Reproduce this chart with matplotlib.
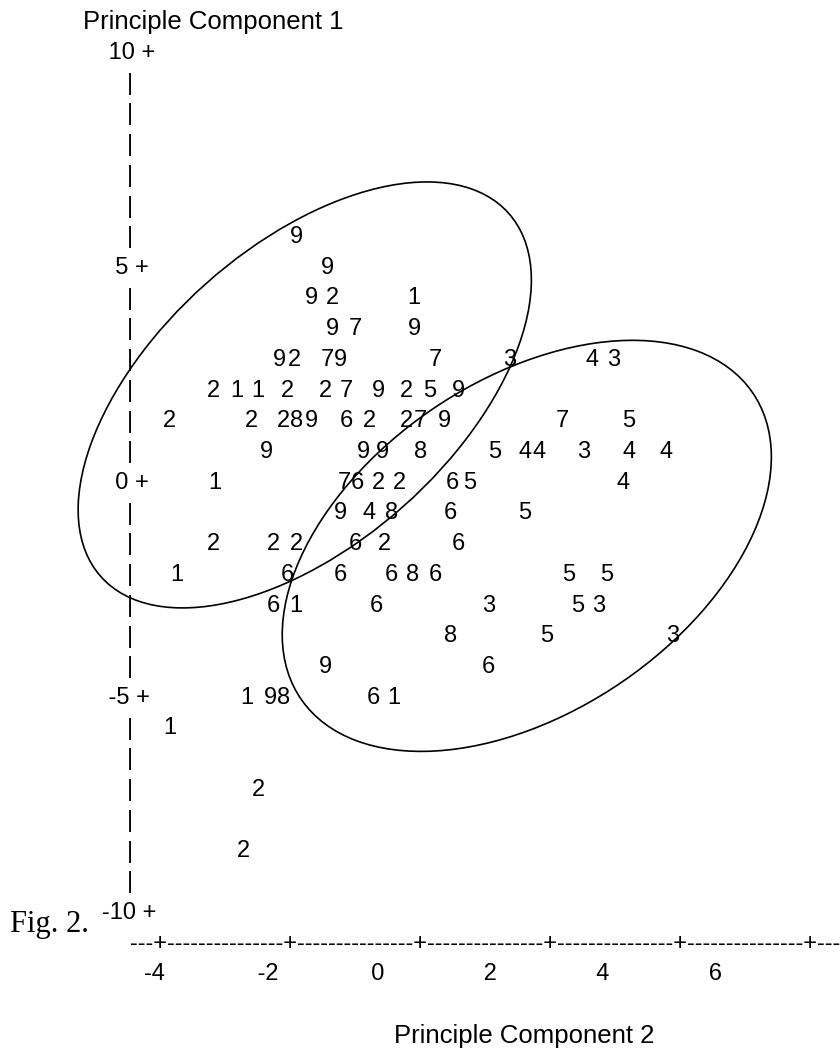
#!/usr/bin/env python3
# Printer-style scatter of the first two principal components (Fig. 2),
# every observation drawn as its group digit, with two ellipses.

import matplotlib
matplotlib.use("Agg")
import matplotlib.pyplot as plt
from matplotlib.patches import Ellipse
from matplotlib.transforms import offset_copy

# group digit of each plotted symbol, with its PC2 (x) and PC1 (y) score
pc2 = [
    -1.92,
    -1.45,
    -1.69, -1.36, -0.12,
    -1.36, -1.02, -0.12,
    -2.17, -1.94, -1.45, -1.25, 0.21, 1.34, 2.60, 2.93,
    -3.18, -2.82, -2.50, -2.05, -1.47, -1.15, -0.67, -0.23, 0.11, 0.55,
    -3.85, -2.61, -2.12, -1.92, -1.69, -1.15, -0.81, -0.23, -0.02, 0.34, 2.14, 3.16,
    -2.38, -0.90, -0.60, -0.02, 1.11, 1.57, 1.79, 2.47, 3.16, 3.73,
    -3.16, -1.18, -0.99, -0.67, -0.34, 0.47, 0.73, 3.07,
    -1.25, -0.81, -0.46, 0.44, 1.57,
    -3.18, -2.27, -1.92, -1.02, -0.58, 0.55,
    -3.74, -2.05, -1.25, -0.46, -0.14, 0.21, 2.24, 2.82,
    -2.27, -1.92, -0.69, 1.01, 2.37, 2.70,
    0.44, 1.91, 3.83,
    -1.47, 1.01,
    -2.67, -2.32, -2.12, -0.75, -0.43,
    -3.85,
    -2.50,
    -2.72,
]
pc1 = (
    [5.71]
    + [5.00]
    + [4.29] * 3
    + [3.57] * 3
    + [2.86] * 8
    + [2.14] * 10
    + [1.43] * 12
    + [0.71] * 10
    + [0.00] * 8
    + [-0.71] * 5
    + [-1.43] * 6
    + [-2.14] * 8
    + [-2.86] * 6
    + [-3.57] * 3
    + [-4.29] * 2
    + [-5.00] * 5
    + [-5.71]
    + [-7.14]
    + [-8.57]
)
group = [
    9,
    9,
    9, 2, 1,
    9, 7, 9,
    9, 2, 7, 9, 7, 3, 4, 3,
    2, 1, 1, 2, 2, 7, 9, 2, 5, 9,
    2, 2, 2, 8, 9, 6, 2, 2, 7, 9, 7, 5,
    9, 9, 9, 8, 5, 4, 4, 3, 4, 4,
    1, 7, 6, 2, 2, 6, 5, 4,
    9, 4, 8, 6, 5,
    2, 2, 2, 6, 2, 6,
    1, 6, 6, 6, 8, 6, 5, 5,
    6, 1, 6, 3, 5, 3,
    8, 5, 3,
    9, 6,
    1, 9, 8, 6, 1,
    1,
    2,
    2,
]

# the two ellipses: centre (pc2, pc1), full width, full height, angle in degrees
ellipse_centers = [(-1.79, 1.99), (1.60, -1.52)]
ellipse_widths = [10.85, 10.45]
ellipse_heights = [5.32, 6.16]
ellipse_angles = [62.1, 60.0]

yticks = [10, 5, 0, -5, -10]
xticks = [-4, -2, 0, 2, 4, 6]
ylabel = "Principle Component 1"
xlabel = "Principle Component 2"

W, H = 840, 1053
X0_PX, X_PX = 422.0, 65.5   # pixel column of PC2 = 0, pixels per unit
Y0_PX, Y_PX = 480.5, 43.0   # pixel row of PC1 = 0, pixels per unit
ROW = 5 / 7                 # one printer line in PC1 units
FONT = ["Liberation Sans", "DejaVu Sans"]
FS = 17
LABEL_FS = 18.5
YAXIS_X = -4.46
YLAB_X = -4.88

fig = plt.figure(figsize=(W / 100, H / 100), dpi=100)
ax = fig.add_axes([0, 0, 1, 1])
ax.set_xlim(-X0_PX / X_PX, (W - X0_PX) / X_PX)
ax.set_ylim((Y0_PX - H) / Y_PX, Y0_PX / Y_PX)
ax.axis("off")


def line_tf(size, dx=0.0):
    # put the baseline so the digits sit centred on their row
    return offset_copy(ax.transData, fig=fig, x=dx, y=-0.358 * size, units="points")


body = line_tf(FS)

for x, y, g in zip(pc2, pc1, group):
    ax.text(x, y, str(g), ha="center", va="baseline", transform=body,
            fontsize=FS, family=FONT)

for c, w, h, a in zip(ellipse_centers, ellipse_widths, ellipse_heights, ellipse_angles):
    ax.add_patch(Ellipse(c, w, h, angle=a, fill=False, ec="black", lw=1.2))

# vertical axis made of printer bars, with the "+" tick lines
n_rows = int(round((yticks[0] - yticks[-1]) / ROW))
for k in range(1, n_rows):
    if k % 7 == 0:
        continue
    ax.text(YAXIS_X, yticks[0] - k * ROW, "|", ha="center", va="baseline",
            transform=body, fontsize=FS, family=FONT)
for v in yticks:
    ax.text(YLAB_X, v, f"{v:>3d} +", ha="left", va="baseline",
            transform=body, fontsize=FS, family=FONT)

# horizontal axis line and its labels
axis_line = "---+" + ("-" * 15 + "+") * (len(xticks) - 1) + "---"
ax.text(xticks[0], yticks[-1] - ROW, axis_line, ha="left", va="baseline",
        transform=line_tf(FS, dx=-(3 * 0.333 + 0.292) * FS),
        fontsize=FS, family=FONT)
tick_row = "".join(str(t).ljust(16) for t in xticks)
ax.text(xticks[0], yticks[-1] - 2 * ROW, tick_row, ha="left", va="baseline",
        transform=line_tf(FS, dx=-11.2), fontsize=FS, family=FONT)

ax.text(-5.18, yticks[0] + ROW, ylabel, ha="left", va="baseline",
        transform=line_tf(LABEL_FS), fontsize=LABEL_FS, family=FONT)
ax.text(-0.43, yticks[-1] - 4 * ROW, xlabel, ha="left", va="baseline",
        transform=line_tf(LABEL_FS), fontsize=LABEL_FS, family=FONT)

fig.text(10 / W, 1 - 932 / H, "Fig. 2.", ha="left", va="baseline",
         fontsize=22, family=["Liberation Serif", "DejaVu Serif"])

fig.savefig("out.png", dpi=100, facecolor="white")
